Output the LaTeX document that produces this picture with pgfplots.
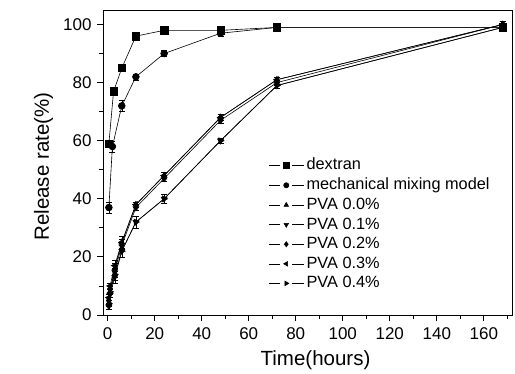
\documentclass[border=0pt]{standalone}
\usepackage{fontspec}
\setmainfont{Liberation Sans}
\usepackage{pgfplots}
\pgfplotsset{compat=1.18}
\begin{document}
\fontsize{16}{19}\selectfont
\begin{tikzpicture}
\begin{axis}[
  scale only axis, width=409pt, height=305pt,
  xmin=-2, xmax=172, ymin=0, ymax=105,
  xtick={0,20,...,160}, minor xtick={10,30,...,170},
  ytick={0,20,...,100}, minor ytick={10,30,...,90},
  tick align=outside, xtick pos=left, ytick pos=left,
  major tick length=6pt, minor tick length=4pt,
  tick style={black, line width=0.8pt},
  axis line style={line width=0.9pt},
  /pgf/number format/assume math mode=true,
  ticklabel style={font=\fontsize{17}{20}\selectfont},
  xticklabel style={yshift=-1pt},
  xlabel={Time(hours)}, ylabel={Release rate(\%)},
  label style={font=\fontsize{20.5}{24}\selectfont},
  xlabel style={yshift=0pt, xshift=8pt}, ylabel style={yshift=-1pt, xshift=-4pt},
  every axis plot/.append style={black, line width=0.6pt, mark size=3.4pt,
     error bars/y dir=both, error bars/y explicit,
     error bars/error bar style={line width=0.5pt},
     error bars/error mark options={rotate=90, mark size=3pt}},
  legend style={draw=none, fill=none, at={(0.398,0.528)}, anchor=north west,
     font=\fontsize{16.3}{19}\selectfont, row sep=1.8pt, cells={anchor=west}},
  legend image code/.code={%
     \draw[#1, mark=none] (0pt,0pt) -- (11pt,0pt);
     \draw[#1, mark=none] (23pt,0pt) -- (35pt,0pt);
     \draw[#1, only marks, mark size=2.6pt] plot coordinates {(17pt,0pt)};},
]
\addplot[mark=square*, mark size=3.7pt] coordinates {(0.5,59) +- (0,1) (2.5,77) +- (0,1) (6,85) +- (0,1) (12,96) +- (0,1) (24,98) +- (0,0.5) (48,98) +- (0,0.5) (72,99) +- (0,0.5) (168,99) +- (0,0.5)};
\addlegendentry{dextran}
\addplot[mark=*] coordinates {(0.5,37) +- (0,2) (2,58) +- (0,2) (6,72) +- (0,2) (12,82) +- (0,1) (24,90) +- (0,1) (48,97) +- (0,1) (72,99) +- (0,0.5) (168,99) +- (0,0.5)};
\addlegendentry{mechanical mixing model}
\addplot[mark=triangle*] coordinates {(0.5,4) +- (0,1) (1,8) +- (0,1) (3,16) +- (0,2) (6,25) +- (0,2) (12,38) +- (0,1) (24,48) +- (0,1) (48,68) +- (0,1) (72,81) +- (0,1) (168,100) +- (0,1)};
\addlegendentry{PVA 0.0\%}
\addplot[mark=triangle*, mark options={rotate=180}] coordinates {(0.5,3) +- (0,1) (1,7) +- (0,1) (3,13) +- (0,2) (6,22) +- (0,2) (12,32) +- (0,2) (24,40) +- (0,1.5) (48,60) +- (0,1) (72,79) +- (0,1) (168,99) +- (0,1)};
\addlegendentry{PVA 0.1\%}
\addplot[mark=diamond*] coordinates {(0.5,5) +- (0,1) (1,9) +- (0,1) (3,15) +- (0,2) (6,24) +- (0,2) (12,37) +- (0,1) (24,47) +- (0,1) (48,67) +- (0,1) (72,80) +- (0,1) (168,100) +- (0,1)};
\addlegendentry{PVA 0.2\%}
\addplot[mark=triangle*, mark options={rotate=90}] coordinates {(0.5,6) +- (0,1) (1,10) +- (0,1) (3,17) +- (0,2) (6,25) +- (0,2) (12,38) +- (0,1) (24,48) +- (0,1) (48,68) +- (0,1) (72,81) +- (0,1) (168,100) +- (0,1)};
\addlegendentry{PVA 0.3\%}
\addplot[mark=triangle*, mark options={rotate=-90}] coordinates {(0.5,4) +- (0,1) (1,8) +- (0,1) (3,14) +- (0,2) (6,22) +- (0,2) (12,32) +- (0,2) (24,40) +- (0,1.5) (48,60) +- (0,1) (72,79) +- (0,1) (168,99) +- (0,1)};
\addlegendentry{PVA 0.4\%}
\end{axis}
\pgfresetboundingbox
\path[use as bounding box] (-103pt,-59pt) rectangle (412pt,315pt);
\end{tikzpicture}
\end{document}
